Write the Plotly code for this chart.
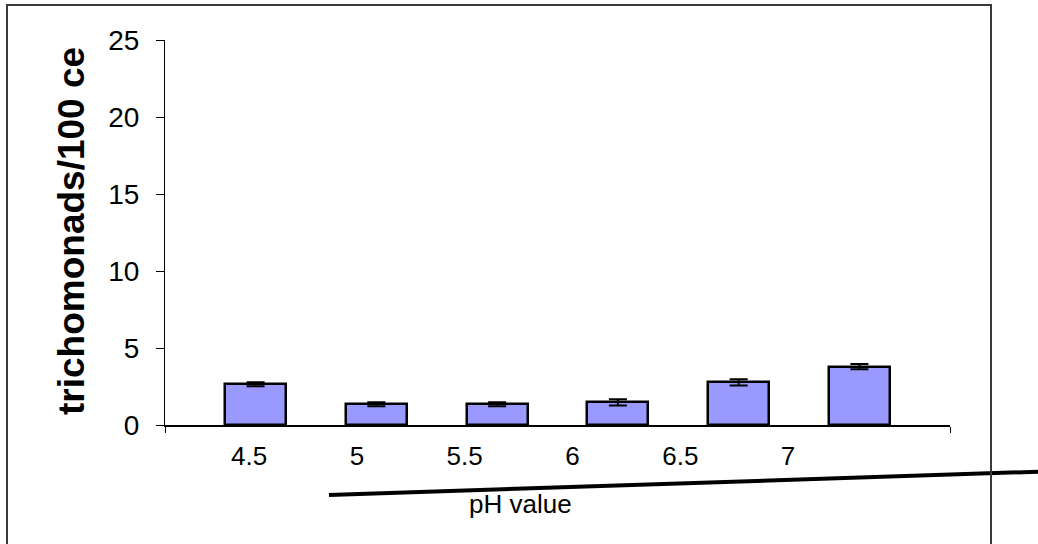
import plotly.graph_objects as go

# pH values tested and mean trichomonad counts per 100 cells
ph_labels = ["4.5", "5", "5.5", "6", "6.5", "7"]
counts = [2.65, 1.34, 1.34, 1.47, 2.77, 3.79]
errors = [0.13, 0.13, 0.13, 0.2, 0.2, 0.17]
y_ticks = [0, 5, 10, 15, 20, 25]

W, H = 1038, 544
L, R, T, B = 165, 88, 40, 119
PW, PH = W - L - R, H - T - B


def px_to_paper(px, py):
    return (px - L) / PW, (H - B - py) / PH


fig = go.Figure()

fig.add_trace(go.Bar(
    x=list(range(len(counts))),
    y=counts,
    width=0.505,
    marker=dict(color="#9999FF", line=dict(color="black", width=2.5)),
    error_y=dict(type="data", array=errors, visible=True,
                 color="black", thickness=2, width=9),
    showlegend=False,
    hoverinfo="skip",
))

# pH tick labels on an overlaid linear axis
fig.add_trace(go.Scatter(
    x=[float(v) for v in ph_labels], y=[None] * len(ph_labels),
    xaxis="x2", mode="markers", showlegend=False, hoverinfo="skip",
))

font_family = "Liberation Sans, Arial, sans-serif"

fig.update_layout(
    width=W, height=H,
    margin=dict(l=L, r=R, t=T, b=B),
    paper_bgcolor="white", plot_bgcolor="white",
    font=dict(family=font_family, color="black"),
    bargap=0,
    xaxis=dict(
        range=[-0.75, len(counts) - 0.25],
        tickvals=[-0.75, len(counts) - 0.25],
        showticklabels=False,
        ticks="outside", ticklen=6, tickwidth=1, tickcolor="black",
        showline=True, linecolor="black", linewidth=1.5,
        showgrid=False, zeroline=False,
    ),
    xaxis2=dict(
        overlaying="x", anchor="y", side="bottom",
        range=[4.11, 7.751],
        tickvals=[float(v) for v in ph_labels],
        ticktext=ph_labels,
        ticks="", showline=False, showgrid=False, zeroline=False,
        tickfont=dict(size=26, color="black"),
        ticklabelstandoff=13,
    ),
    yaxis=dict(
        range=[0, 25],
        tickvals=y_ticks,
        ticks="outside", ticklen=8, tickwidth=1, tickcolor="black",
        showline=True, linecolor="black", linewidth=1,
        showgrid=False, zeroline=False,
        tickfont=dict(size=28, color="black"),
        ticklabelstandoff=11,
    ),
)

# y-axis title
tx, ty = px_to_paper(71, 231)
fig.add_annotation(
    text="<b>trichomonads/100 ce</b>", textangle=-90,
    x=tx, y=ty, xref="paper", yref="paper",
    xanchor="center", yanchor="middle", showarrow=False,
    font=dict(size=37, family=font_family, color="black"),
)

# x-axis title
ax, ay = px_to_paper(520, 504)
fig.add_annotation(
    text="pH value", x=ax, y=ay, xref="paper", yref="paper",
    xanchor="center", yanchor="middle", showarrow=False,
    font=dict(size=26, family=font_family, color="black"),
)

# slanted rule under the axis labels
x0, y0 = px_to_paper(329, 495)
x1, y1 = px_to_paper(1040, 471.6)
fig.add_shape(type="line", xref="paper", yref="paper",
              x0=x0, y0=y0, x1=x1, y1=y1,
              line=dict(color="black", width=4))

# outer frame
fx0, fy0 = px_to_paper(7, 560)
fx1, fy1 = px_to_paper(991, 5)
fig.add_shape(type="rect", xref="paper", yref="paper",
              x0=fx0, y0=fy0, x1=fx1, y1=fy1,
              line=dict(color="#3a3a3a", width=2))

fig.write_html("out.html")
